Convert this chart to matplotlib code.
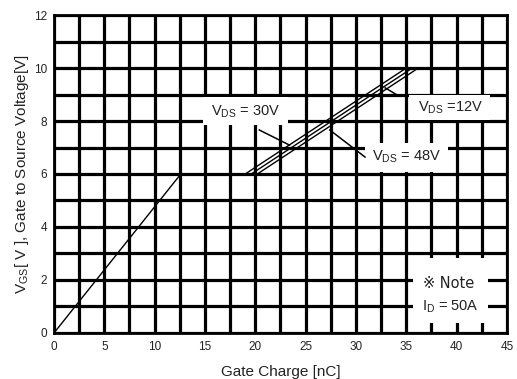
import matplotlib
matplotlib.use("Agg")
import matplotlib.pyplot as plt
from matplotlib.patches import Rectangle

plt.rcParams['font.family'] = ['Liberation Sans', 'DejaVu Sans']
plt.rcParams['mathtext.fontset'] = 'custom'
plt.rcParams['mathtext.rm'] = 'Liberation Sans'
plt.rcParams['mathtext.it'] = 'Liberation Sans'

# Data
qg_rise = [0, 12.6]          # nC
vgs_rise = [0, 6.0]          # V

vds_labels = ["12V", "30V", "48V"]
qg_start = [19.0, 19.6, 20.2]   # nC at VGS = 6 V
qg_end = [35.0, 35.6, 36.2]     # nC at VGS = 10 V
vgs_range = [6.0, 10.0]

x_ticks = [0, 5, 10, 15, 20, 25, 30, 35, 40, 45]
y_ticks = [0, 2, 4, 6, 8, 10, 12]

txt = '#222222'

fig = plt.figure(figsize=(5.17, 3.79), dpi=100)
ax = fig.add_axes([0.1044, 0.1214, 0.8762, 0.839])

ax.set_xlim(0, 45)
ax.set_ylim(0, 12)
ax.set_xticks(x_ticks)
ax.set_yticks(y_ticks)
ax.set_xticks([i * 2.5 for i in range(19)], minor=True)
ax.set_yticks(range(13), minor=True)
ax.grid(which='both', color='black', linewidth=2.3)
ax.set_axisbelow(True)
ax.tick_params(which='both', length=0, labelsize=8.5, labelcolor=txt)
ax.tick_params(axis='x', pad=6)
ax.tick_params(axis='y', pad=5)
for s in ax.spines.values():
    s.set_linewidth(2)

ax.plot(qg_rise, vgs_rise, color='black', lw=1.0, zorder=5)
for a, b in zip(qg_start, qg_end):
    ax.plot([a, b], vgs_range, color='black', lw=1.0, zorder=5)

# white label areas hiding the grid
boxes = [(14.8, 7.85, 8.4, 1.05), (35.3, 8.05, 8.0, 0.95),
         (30.9, 6.08, 8.2, 1.08), (35.7, 0.38, 7.4, 2.45)]
for x0, y0, w, h in boxes:
    ax.add_patch(Rectangle((x0, y0), w, h, facecolor='white', edgecolor='none', zorder=3))

fs = 10.5
ax.text(19.0, 8.35, r'V$_{\mathrm{DS}}$ = 30V', ha='center', va='center', fontsize=fs, color=txt, zorder=6)
ax.text(39.4, 8.5, r'V$_{\mathrm{DS}}$ =12V', ha='center', va='center', fontsize=fs, color=txt, zorder=6)
ax.text(35.0, 6.65, r'V$_{\mathrm{DS}}$ = 48V', ha='center', va='center', fontsize=fs, color=txt, zorder=6)
ax.text(36.7, 1.85, '※ Note', ha='left', va='center', fontsize=fs, color=txt, zorder=6,
        family=['DejaVu Sans', 'Noto Sans CJK SC'])
ax.text(36.6, 1.0, r'I$_{\mathrm{D}}$ = 50A', ha='left', va='center', fontsize=fs, color=txt, zorder=6)

# leader lines
ax.plot([20.4, 23.4], [7.66, 7.09], color='black', lw=1.1, zorder=5)
ax.plot([27.4, 30.9], [7.66, 6.64], color='black', lw=1.1, zorder=5)
ax.plot([32.9, 34.1], [9.25, 8.98], color='black', lw=1.1, zorder=5)

ax.set_xlabel('Gate Charge [nC]', fontsize=11, color=txt)
ax.set_ylabel(r'V$_{\mathrm{GS}}$[ V ], Gate to Source Voltage[V]', fontsize=11, color=txt)
ax.xaxis.set_label_coords(0.5, -0.10)
ax.yaxis.set_label_coords(-0.05, 0.5)

fig.savefig('out.png', dpi=100)
